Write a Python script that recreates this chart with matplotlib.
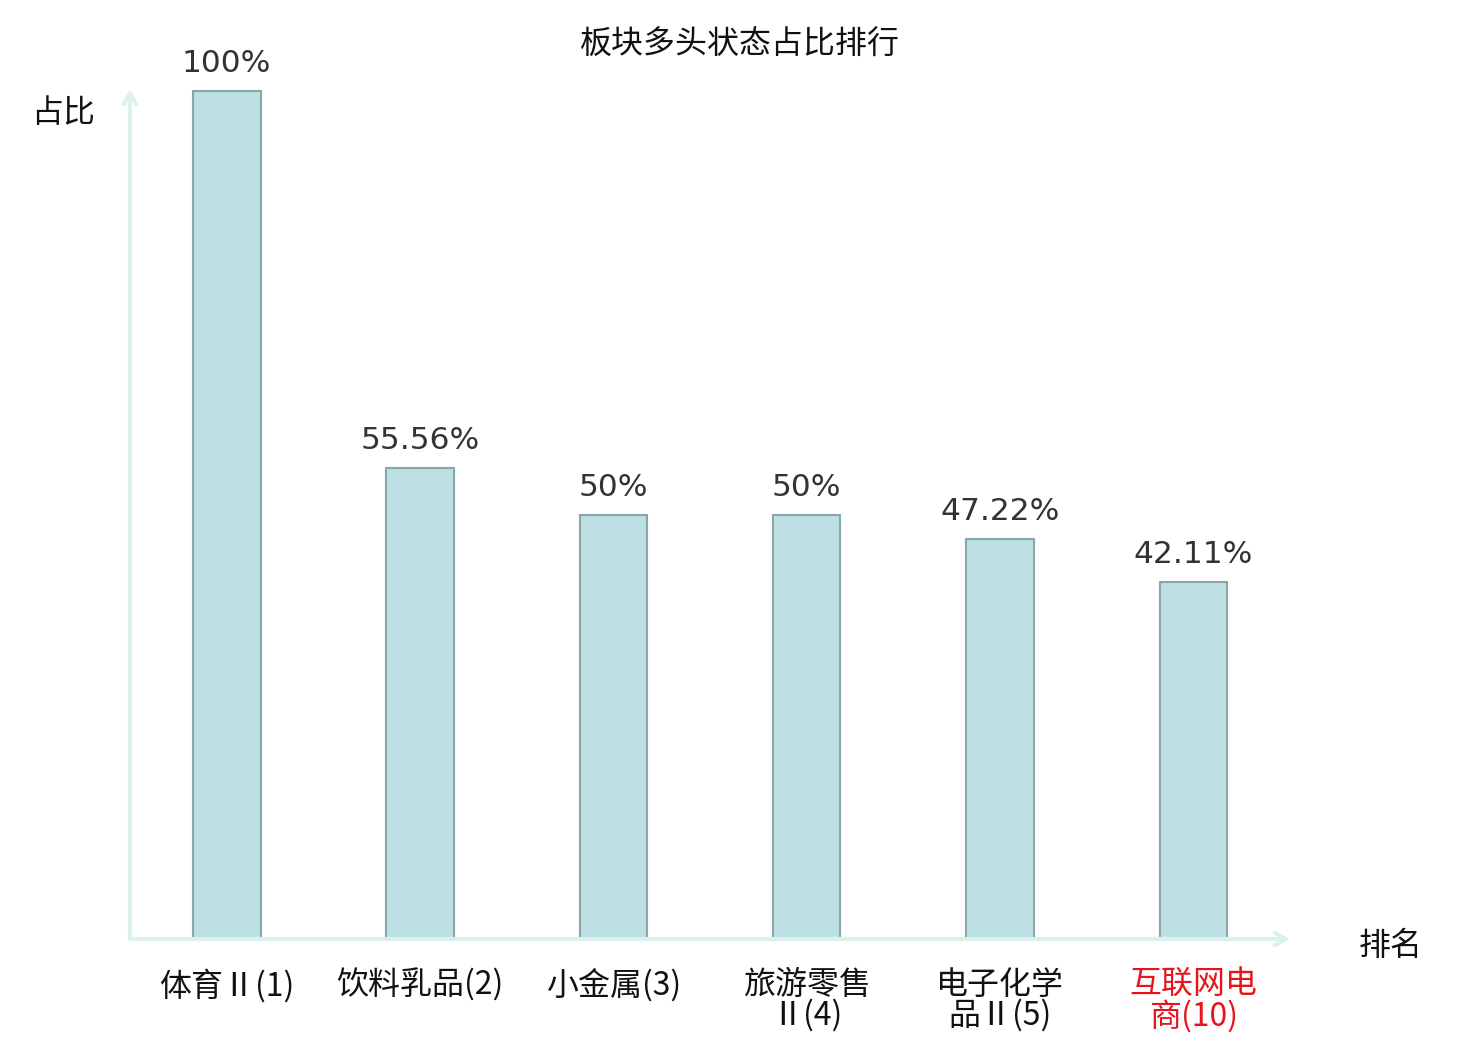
import matplotlib
matplotlib.use("Agg")
import matplotlib.pyplot as plt

plt.rcParams['font.family'] = ['Noto Sans CJK SC', 'DejaVu Sans']

categories = ["体育Ⅱ(1)", "饮料乳品(2)", "小金属(3)", "旅游零售\nⅡ(4)", "电子化学\n品Ⅱ(5)", "互联网电\n商(10)"]
values = [100, 55.56, 50, 50, 47.22, 42.11]
value_labels = ["100%", "55.56%", "50%", "50%", "47.22%", "42.11%"]
label_colors = ["#111111", "#111111", "#111111", "#111111", "#111111", "#e8141c"]

fig = plt.figure(figsize=(14.8, 10.4), dpi=100)
ax = fig.add_axes([130/1480, 1 - 939/1040, 1160/1480, 850/1040])
x = list(range(len(categories)))
bars = ax.bar(x, values, width=0.35, color="#bce0e3", edgecolor="#8aa6a8", linewidth=1.5, zorder=3)
ax.set_xlim(-0.5, 5.5)
ax.set_ylim(0, 100 * 850 / 848)
for s in ax.spines.values():
    s.set_visible(False)
ax.set_xticks([])
ax.set_yticks([])

axis_col = "#dcf1ee"
ax.annotate("", xy=(0, 1.0), xytext=(0, 0), xycoords="axes fraction",
            arrowprops=dict(arrowstyle="->,head_length=0.8,head_width=0.45", color=axis_col, lw=3,
                            shrinkA=0, shrinkB=0), annotation_clip=False)
ax.annotate("", xy=(1.0, 0), xytext=(0, 0), xycoords="axes fraction",
            arrowprops=dict(arrowstyle="->,head_length=0.8,head_width=0.45", color=axis_col, lw=3,
                            shrinkA=0, shrinkB=0), annotation_clip=False)

for xi, v, lab in zip(x, values, value_labels):
    ax.annotate(lab, xy=(xi, v), xytext=(0, 9), textcoords="offset points",
                ha="center", va="bottom", fontsize=22.5, color="#333333",
                family=["DejaVu Sans"])

for xi, c, col in zip(x, categories, label_colors):
    ax.text(xi, -3.5, c, ha="center", va="top", fontsize=23, color=col, linespacing=0.95,
            transform=ax.transData)

fig.text(740/1480, 1 - 45/1040, "板块多头状态占比排行", ha="center", va="center", fontsize=23, color="#111111")
fig.text(63/1480, 1 - 113/1040, "占比", ha="center", va="center", fontsize=23, color="#111111")
fig.text(1391/1480, 1 - 946/1040, "排名", ha="center", va="center", fontsize=23, color="#111111")

fig.savefig("out.png", dpi=100, facecolor="white")
